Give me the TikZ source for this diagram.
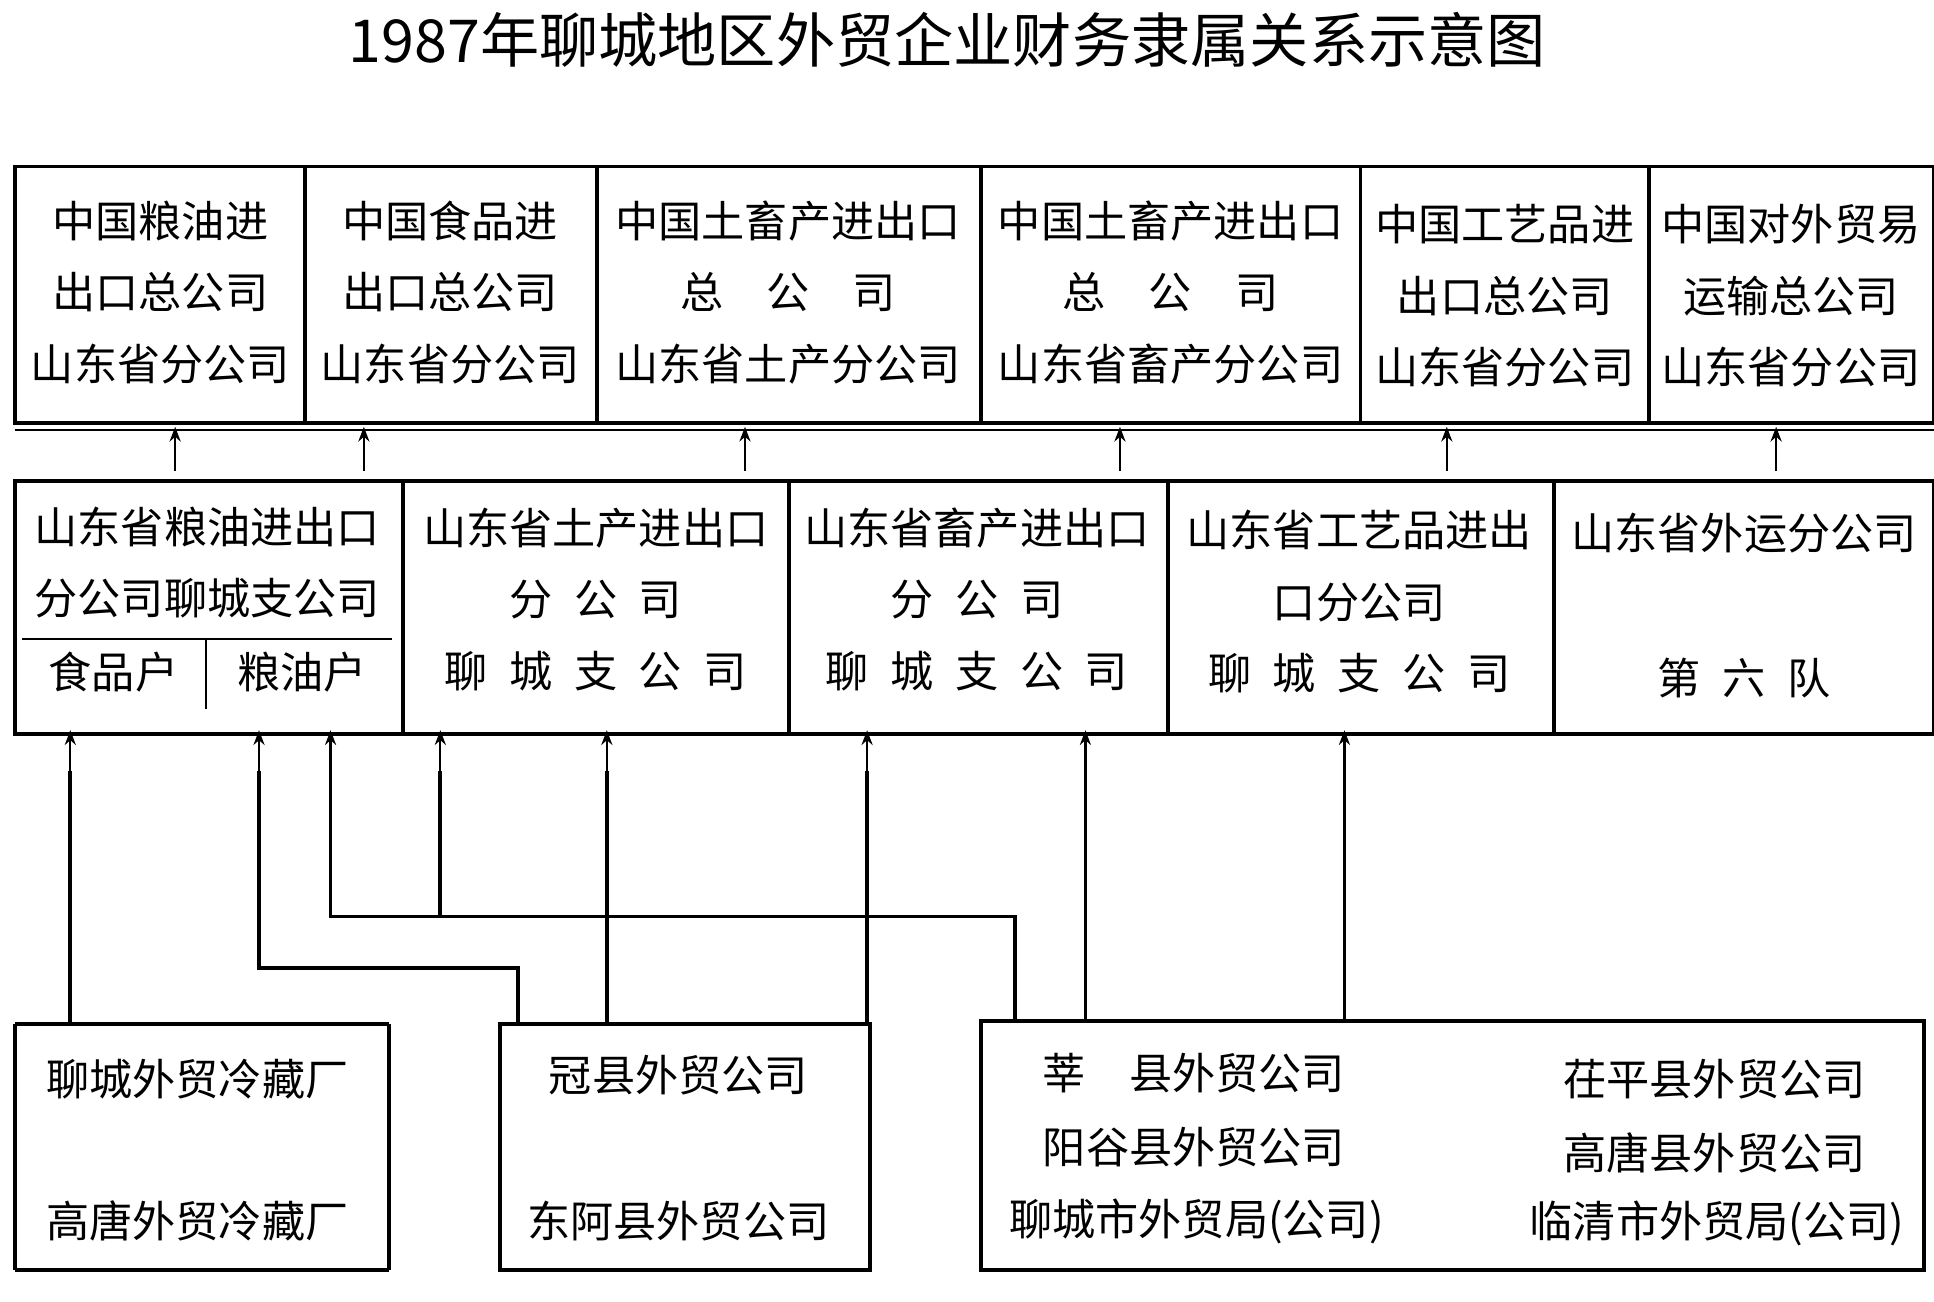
\documentclass[tikz,border=0pt]{standalone}
\usepackage{fontspec}
\setmainfont{Noto Sans CJK SC}
\usetikzlibrary{arrows.meta}
\begin{document}
\begin{tikzpicture}[x=0.5pt,y=-0.5pt,
 t/.style={font=\fontsize{17.5}{29}\selectfont,inner sep=0pt,align=center},
 bx/.style={line width=1.6pt},
 ln/.style={line width=1.5pt},
 ar/.style={line width=0.9pt,-{Stealth[length=6pt,width=4.5pt]}}]
\useasboundingbox (0,0) rectangle (1568,1055);
\node[t,font=\fontsize{24}{26}\selectfont] (title) at (768,32) {1987年聊城地区外贸企业财务隶属关系示意图};
% top box
\draw[bx] (12,135) rectangle (1568,343);
\draw[line width=0.8pt] (12,349) -- (1568,349);
\foreach \x in {247,484,795,1103,1337} \draw[bx] (\x,135) -- (\x,343);
\node[t] (a1) at (130,237) {中国粮油进\\出口总公司\\山东省分公司};
\node[t] (a2) at (365,237) {中国食品进\\出口总公司\\山东省分公司};
\node[t] (a3) at (639,237) {中国土畜产进出口\\总\quad 公\quad 司\\山东省土产分公司};
\node[t] (a4) at (949,237) {中国土畜产进出口\\总\quad 公\quad 司\\山东省畜产分公司};
\node[t] (a5) at (1220,240) {中国工艺品进\\出口总公司\\山东省分公司};
\node[t] (a6) at (1452,240) {中国对外贸易\\运输总公司\\山东省分公司};
% middle box
\draw[bx] (12,390) rectangle (1568,595);
\foreach \x in {327,640,947,1260} \draw[bx] (\x,390) -- (\x,595);
\draw[line width=0.8pt] (18,518) -- (318,518);
\draw[line width=0.8pt] (167,518) -- (167,575);
\node[t] (b1) at (168,456) {山东省粮油进出口\\分公司聊城支公司};
\node[t] (b1a) at (92,545) {食品户};
\node[t] (b1b) at (245,545) {粮油户};
\node[t] (b2) at (483,486) {山东省土产进出口\\分\enspace 公\enspace 司\\聊\enspace 城\enspace 支\enspace 公\enspace 司};
\node[t] (b3) at (792,486) {山东省畜产进出口\\分\enspace 公\enspace 司\\聊\enspace 城\enspace 支\enspace 公\enspace 司};
\node[t] (b4) at (1102,488) {山东省工艺品进出\\口分公司\\聊\enspace 城\enspace 支\enspace 公\enspace 司};
\node[t] (b5) at (1414,432) {山东省外运分公司};
\node[t] (b6) at (1414,550) {第\enspace 六\enspace 队};
\foreach \x in {142,295,604,908,1173,1440} \draw[ar] (\x,382) -- (\x,346);
% bottom boxes
\draw[bx] (12,830) -- (315,830) (315,830) -- (315,1030) (12,1030) -- (315,1030) (12,830) -- (12,1030);
\draw[bx] (405,830) rectangle (705,1030);
\draw[bx] (795,828) rectangle (1560,1030);
\node[t] (c1) at (160,875) {聊城外贸冷藏厂};
\node[t] (c2) at (160,990) {高唐外贸冷藏厂};
\node[t] (d1) at (550,872) {冠县外贸公司};
\node[t] (d2) at (550,990) {东阿县外贸公司};
\node[t] (e1) at (968,870) {莘\quad 县外贸公司};
\node[t] (e2) at (968,930) {阳谷县外贸公司};
\node[t] (e3) at (970,990) {聊城市外贸局(公司)};
\node[t] (f1) at (1390,875) {茌平县外贸公司};
\node[t] (f2) at (1390,935) {高唐县外贸公司};
\node[t] (f3) at (1392,992) {临清市外贸局(公司)};
% connectors
\foreach \x in {57,210,268,357,492,703,880,1090} \draw[ar] (\x,625) -- (\x,592);
\draw[ln] (57,625) -- (57,830);
\draw[ln] (210,625) -- (210,785) -- (420,785) -- (420,830);
\draw[ln] (268,625) -- (268,743) -- (823,743) -- (823,828);
\draw[ln] (357,625) -- (357,743);
\draw[ln] (492,625) -- (492,830);
\draw[ln] (703,625) -- (703,830);
\draw[ln] (880,625) -- (880,828);
\draw[ln] (1090,625) -- (1090,828);
\end{tikzpicture}
\end{document}
